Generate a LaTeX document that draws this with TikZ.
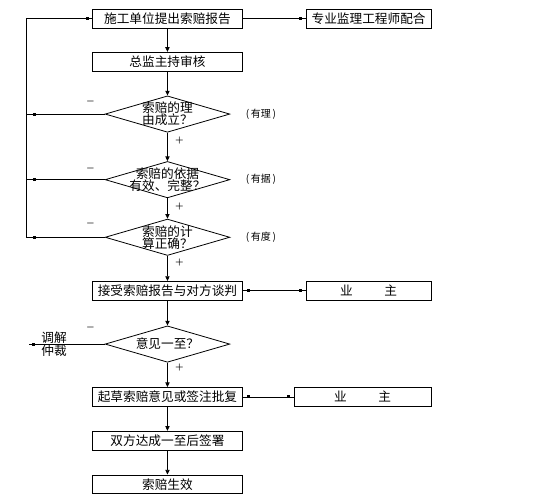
\documentclass[tikz,border=0pt]{standalone}
\usepackage{fontspec}
\newfontfamily\cjk{Noto Sans CJK SC}
\usetikzlibrary{arrows.meta,positioning,calc,shapes.geometric,decorations.markings}

\begin{document}
\begin{tikzpicture}[
  box/.style={rectangle, draw, line width=0.6pt,
              minimum width=112pt, minimum height=14.2pt, inner sep=1pt},
  side/.style={box, minimum width=94pt},
  dia/.style={diamond, draw, line width=0.6pt, aspect=3.38, inner sep=-5pt,
              minimum width=93.5pt, minimum height=27.3pt},
  note/.style={inner sep=0pt, font=\cjk\fontsize{7.5}{8}\selectfont},
  sgn/.style={inner sep=0pt, font=\fontsize{6.5}{7}\selectfont\boldmath},
  arr/.style={-{Triangle[length=3.5pt,width=3.2pt]}, line width=0.6pt},
  con/.style={line width=0.6pt},
  sqr/.style={postaction={decorate, decoration={markings,
              mark=at position #1 with {\fill (-1.1pt,-1.1pt) rectangle (1.1pt,1.1pt);}}}},
  font=\cjk\fontsize{9.5}{9}\selectfont
]
  \useasboundingbox (-125.6pt,14.1pt) rectangle (274.9pt,-363.15pt);
  \node[box] (report) at (0,0) {施工单位提出索赔报告};
  \node[side, right=47.25pt of report] (coop) {专业监理工程师配合};
  \node[box, below=17.4pt of report] (review) {总监主持审核};
  \node[dia, below=17.9pt of review, align=left] (reason) {索赔的理\\由成立？};
  \node[dia, below=21.3pt of reason, align=center] (basis) {索赔的依据\\有效、完整？};
  \node[dia, below=15.3pt of basis, align=left] (calc) {索赔的计\\算正确？};
  \node[box, below=18.8pt of calc] (nego) {接受索赔报告与对方谈判};
  \node[side, right=47.25pt of nego] (owner1) {业\hspace{23.8pt}主};
  \node[dia, below=18.6pt of nego] (agree) {意见一至？};
  \node[box, below=18.3pt of agree] (draft) {起草索赔意见或签注批复};
  \node[side, minimum width=103pt, right=38.25pt of draft] (owner2) {业\hspace{23.8pt}主};
  \node[box, below=18pt of draft] (sign) {双方达成一至后签署};
  \node[box, below=18pt of sign] (valid) {索赔生效};

  % notes beside the checks
  \node[note, right=11.5pt of reason] (n1) {(\,有理\,)};
  \node[note, right=11.5pt of basis] (n2) {(\,有据\,)};
  \node[note, right=11.5pt of calc] (n3) {(\,有度\,)};
  \node[inner sep=0pt, align=center, font=\cjk\fontsize{9.5}{7.5}\selectfont,
        left=28.3pt of agree] (med) {调解\\仲裁};

  % signs
  \node[sgn] (m1) at ($(reason.west)+(-10.7pt,9.5pt)$) {$-$};
  \node[sgn] (m2) at ($(basis.west)+(-10.7pt,8.7pt)$) {$-$};
  \node[sgn] (m3) at ($(calc.west)+(-10.7pt,10.1pt)$) {$-$};
  \node[sgn] (m4) at ($(agree.west)+(-10.7pt,12.1pt)$) {$-$};
  \node[sgn] (p1) at ($(reason.south)+(9pt,-6.2pt)$) {$+$};
  \node[sgn] (p2) at ($(basis.south)+(9pt,-6.4pt)$) {$+$};
  \node[sgn] (p3) at ($(calc.south)+(9pt,-4.7pt)$) {$+$};
  \node[sgn] (p4) at ($(agree.south)+(9pt,-3.3pt)$) {$+$};

  \coordinate[left=59pt of reason.west] (c1);
  \coordinate (c2) at (c1 |- basis.west);
  \coordinate (c3) at (c1 |- calc.west);
  \coordinate[left=57pt of agree.west] (c4);

  \draw[arr] (report) -- (review);
  \draw[arr] (review) -- (reason);
  \draw[arr] (reason) -- (basis);
  \draw[arr] (basis) -- (calc);
  \draw[arr] (calc) -- (nego);
  \draw[arr] (nego) -- (agree);
  \draw[arr] (agree) -- (draft);
  \draw[arr] (draft) -- (sign);
  \draw[arr] (sign) -- (valid);

  \draw[con, sqr=-4pt] (report) -- (coop);
  \draw[con, sqr=4.5pt, sqr=-4pt] (nego) -- (owner1);
  \draw[con, sqr=4.5pt, sqr=-4pt] (draft) -- (owner2);
  \draw[con, sqr=-6.3pt] (reason.west) -- (c1);
  \draw[con, sqr=-6.3pt] (basis.west) -- (c2);
  \draw[con, sqr=-6.3pt] (calc.west) -- (c3);
  \draw[con, sqr=-4pt] (c3) |- (report.west);
  \draw[con, sqr=-3.75pt] (agree.west) -- (c4);
\end{tikzpicture}
\end{document}
